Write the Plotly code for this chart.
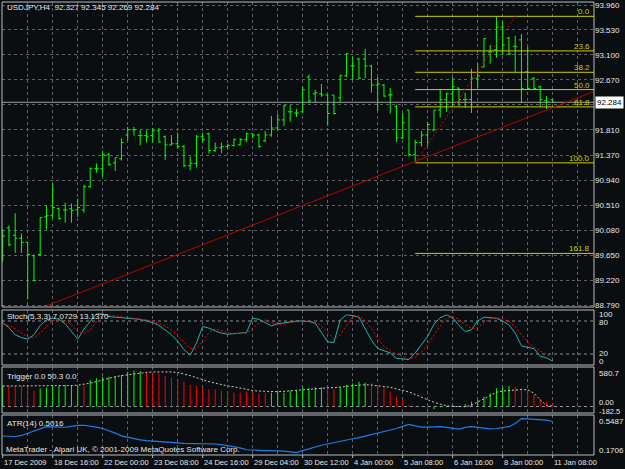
import plotly.graph_objects as go

# ---------------- data ----------------
bar_open = [89.71, 90.12, 89.99, 89.94, 89.87, 89.64, 89.66, 90.31, 90.33, 90.45,
            90.43, 90.45, 90.43, 90.43, 90.83, 91.14, 91.14, 91.38, 91.24, 91.31,
            91.72, 91.81, 91.71, 91.71, 91.71, 91.79, 91.69, 91.55, 91.57, 91.52,
            91.19, 91.23, 91.69, 91.74, 91.45, 91.50, 91.52, 91.54, 91.55, 91.64,
            91.74, 91.72, 91.62, 91.72, 91.84, 91.98, 92.12, 92.10, 92.12, 92.72,
            92.43, 92.43, 92.41, 92.41, 92.36, 92.74, 92.91, 93.03, 93.03, 92.91,
            92.58, 92.58, 92.41, 92.21, 91.67, 92.15, 91.38, 91.59, 91.72, 91.81,
            92.15, 92.33, 92.43, 92.53, 92.33, 92.33, 92.70, 92.89, 93.15, 93.19,
            93.58, 93.39, 93.25, 93.36, 92.81, 92.70, 92.55, 92.31, 92.327]
bar_high = [90.09, 90.16, 90.37, 90.02, 89.88, 89.66, 90.30, 90.50, 90.88, 90.47,
            90.55, 90.54, 90.62, 90.86, 91.16, 91.23, 91.45, 91.41, 91.33, 91.66,
            91.86, 91.86, 91.81, 91.80, 91.84, 91.84, 91.71, 91.72, 91.76, 91.55,
            91.35, 91.72, 91.76, 91.76, 91.59, 91.59, 91.57, 91.66, 91.67, 91.76,
            91.74, 91.74, 91.79, 92.05, 92.09, 92.24, 92.24, 92.17, 92.55, 92.76,
            92.50, 92.60, 92.43, 92.41, 92.76, 93.13, 93.07, 93.05, 93.20, 92.93,
            92.72, 92.60, 92.53, 92.24, 92.10, 92.15, 91.64, 91.79, 91.95, 92.15,
            92.50, 92.45, 92.72, 92.53, 92.45, 92.86, 92.95, 93.39, 93.27, 93.76,
            93.68, 93.41, 93.43, 93.46, 93.24, 92.72, 92.57, 92.39, 92.345]
bar_low = [89.54, 89.80, 89.69, 89.69, 88.89, 89.20, 89.63, 90.09, 90.28, 90.26,
           90.21, 90.21, 90.31, 90.38, 90.81, 91.07, 91.00, 91.19, 91.10, 91.28,
           91.62, 91.71, 91.54, 91.59, 91.59, 91.59, 91.29, 91.54, 91.48, 91.17,
           91.11, 91.16, 91.59, 91.40, 91.43, 91.41, 91.47, 91.52, 91.54, 91.60,
           91.66, 91.50, 91.60, 91.69, 91.79, 91.88, 91.95, 92.03, 92.10, 92.27,
           92.29, 92.38, 91.88, 92.07, 92.27, 92.72, 92.67, 92.69, 92.70, 92.45,
           92.14, 92.38, 92.09, 91.60, 91.65, 91.35, 91.24, 91.52, 91.53, 91.78,
           92.02, 92.12, 92.21, 92.22, 92.19, 92.10, 92.53, 92.89, 92.95, 93.05,
           93.10, 93.10, 92.81, 92.27, 92.50, 92.50, 92.21, 92.17, 92.269]
bar_close = [89.98, 89.83, 89.94, 89.87, 89.66, 89.21, 90.30, 90.33, 90.47, 90.28,
             90.43, 90.42, 90.47, 90.83, 91.14, 91.14, 91.38, 91.21, 91.33, 91.59,
             91.81, 91.81, 91.71, 91.69, 91.79, 91.60, 91.55, 91.57, 91.52, 91.19,
             91.23, 91.69, 91.64, 91.45, 91.50, 91.52, 91.54, 91.64, 91.64, 91.74,
             91.72, 91.52, 91.72, 91.84, 91.98, 92.22, 92.12, 92.10, 92.50, 92.31,
             92.45, 92.41, 92.09, 92.09, 92.74, 93.12, 92.91, 92.70, 92.91, 92.58,
             92.60, 92.39, 92.41, 91.67, 91.93, 91.38, 91.59, 91.72, 91.90, 92.15,
             92.33, 92.43, 92.55, 92.33, 92.33, 92.70, 92.74, 93.38, 93.15, 93.58,
             93.27, 93.12, 93.24, 92.52, 92.52, 92.52, 92.33, 92.29, 92.284]

stoch_main = [77, 68, 55, 50, 47, 55, 72, 82, 85, 83,
              75, 60, 47, 65, 80, 93, 93, 88, 87, 86,
              85, 84, 83, 80, 77, 72, 64, 55, 43, 28,
              18, 40, 70, 67, 62, 58, 56, 57, 58, 59,
              85, 83, 77, 71, 75, 77, 79, 80, 80, 79,
              76, 58, 42, 41, 82, 91, 90, 87, 66, 45,
              30, 26, 22, 12, 11, 10, 22, 38, 52, 74,
              86, 91, 86, 72, 61, 64, 80, 87, 86, 85,
              80, 73, 58, 35, 32, 30, 16, 13, 7.0729]
stoch_signal = [75, 72, 66, 58, 51, 50, 58, 70, 80, 83,
                81, 73, 61, 57, 64, 79, 89, 91, 89, 87,
                86, 85, 84, 82, 80, 76, 71, 64, 54, 42,
                30, 29, 43, 59, 66, 62, 59, 57, 57, 58,
                67, 76, 82, 77, 74, 74, 77, 79, 80, 80,
                78, 71, 59, 47, 55, 71, 88, 89, 81, 66,
                47, 34, 26, 20, 15, 11, 14, 23, 37, 55,
                71, 84, 88, 83, 73, 66, 68, 77, 84, 86,
                84, 79, 70, 55, 42, 32, 26, 20, 13.137]

trigger_hist = [338, 338, 338, 338, 338, 261, 300, 317, 338, 338,
                355, 355, 338, 338, 437, 465, 492, 492, 503, 520,
                574, 591, 586, 574, 558, 547, 503, 476, 448, 409,
                355, 338, 317, 284, 284, 261, 228, 228, 228, 244,
                228, 218, 218, 228, 261, 228, 261, 261, 317, 300,
                317, 317, 300, 284, 317, 355, 383, 409, 393, 383,
                355, 317, 244, 162, 119, 25, -14, -10, -58, -47,
                -14, -5, 25, 8, 41, 79, 107, 162, 218, 300,
                327, 338, 317, 300, 270, 190, 119, 79, 50.3]
trigger_color = ("G" "RRRRR" "GGGGGGG" "R" "GGGGGGGGG" "RRRRRRRRRRRRRRRRRRRR"
                 "GGGGGGGGG" "RR" "GGGGG" "RRRRRRRRRR" "GGGGGGGGGGGGG" "RRRRRRR")
trigger_signal = [338, 338, 338, 338, 338, 338, 338, 338, 338, 338,
                  340, 345, 352, 365, 385, 410, 440, 465, 490, 510,
                  525, 536, 550, 562, 570, 574, 574, 570, 560, 540,
                  510, 475, 440, 410, 385, 360, 340, 325, 305, 280,
                  262, 255, 250, 245, 244, 250, 258, 265, 275, 290,
                  300, 305, 308, 310, 317, 330, 345, 355, 358, 355,
                  345, 330, 317, 290, 265, 240, 200, 150, 110, 70,
                  35, 10, 2, 0, -3, 20, 75, 130, 190, 235,
                  255, 265, 272, 280, 275, 220, 110, 15, 8]

atr_values = [0.349, 0.347, 0.344, 0.355, 0.380, 0.405, 0.428, 0.447, 0.446, 0.444,
              0.441, 0.450, 0.460, 0.462, 0.455, 0.443, 0.428, 0.405, 0.380, 0.350,
              0.335, 0.320, 0.308, 0.300, 0.294, 0.289, 0.284, 0.280, 0.276, 0.272,
              0.272, 0.272, 0.270, 0.267, 0.265, 0.258, 0.248, 0.240, 0.225, 0.205,
              0.200, 0.197, 0.195, 0.195, 0.195, 0.190, 0.182, 0.174, 0.195, 0.215,
              0.235, 0.252, 0.265, 0.280, 0.295, 0.307, 0.320, 0.332, 0.348, 0.362,
              0.376, 0.392, 0.410, 0.428, 0.450, 0.472, 0.455, 0.442, 0.443, 0.445,
              0.447, 0.440, 0.432, 0.422, 0.440, 0.447, 0.440, 0.432, 0.424, 0.428,
              0.437, 0.447, 0.480, 0.532, 0.530, 0.527, 0.525, 0.515, 0.5016]

time_labels = ["17 Dec 2009", "18 Dec 16:00", "22 Dec 00:00", "23 Dec 08:00",
               "24 Dec 16:00", "29 Dec 04:00", "30 Dec 12:00", "4 Jan 00:00",
               "5 Jan 08:00", "6 Jan 16:00", "8 Jan 00:00", "11 Jan 08:00"]
time_label_bars = [0, 8, 16, 24, 32, 40, 48, 56, 64, 72, 80, 88]
price_ticks = [93.960, 93.530, 93.100, 92.670, 92.240, 91.810, 91.370,
               90.940, 90.510, 90.080, 89.650, 89.220, 88.790]
fib_levels = [0.0, 23.6, 38.2, 50.0, 61.8, 100.0, 161.8]
fib_high = 93.765
fib_low = 91.24
fib_anchor_bars = [66, 82]
trend_bars = [7.1, 94.6]
trend_prices = [88.78, 92.47]
last_price = 92.284

# ---------------- style / layout ----------------
W, H = 625, 469
ML, MR, MT, MB = 2, 31, 2, 14
PW, PH = W - ML - MR, H - MT - MB
BG = "#0b0e11"
GRID = "#5b6166"
FG = "#e6e6e6"
FONT = "Liberation Sans, Arial, sans-serif"
LIME = "#00ff00"
FIB = "#cccc00"


def py(ypx):
    return 1 - (ypx - MT) / PH


def px(xpx):
    return (xpx - ML) / PW


n = len(bar_close)
xs = list(range(n))
x_range = [-0.112, 94.608]


def bar_to_paper(b):
    return (b - x_range[0]) / (x_range[1] - x_range[0])


dom_price = [py(307), 1]
dom_stoch = [py(365), py(310)]
dom_trig = [py(413), py(367)]
dom_atr = [0, py(415)]

fig = go.Figure()

# price bars
fig.add_trace(go.Ohlc(x=xs, open=bar_open, high=bar_high, low=bar_low, close=bar_close,
                      increasing=dict(line=dict(color=LIME, width=1)),
                      decreasing=dict(line=dict(color=LIME, width=1)),
                      tickwidth=0.35, hoverinfo="skip", xaxis="x", yaxis="y"))

# current price line
fig.add_trace(go.Scatter(x=x_range, y=[last_price, last_price], mode="lines",
                         line=dict(color="#9a9ea2", width=1), hoverinfo="skip",
                         xaxis="x", yaxis="y"))

# fibonacci levels
fib_prices = [fib_high - (fib_high - fib_low) * lv / 100 for lv in fib_levels]
for lv, fp in zip(fib_levels, fib_prices):
    fig.add_trace(go.Scatter(x=[fib_anchor_bars[0], x_range[1]], y=[fp, fp], mode="lines",
                             line=dict(color=FIB, width=1), hoverinfo="skip",
                             xaxis="x", yaxis="y"))
# fibonacci diagonal
fig.add_trace(go.Scatter(x=fib_anchor_bars, y=[fib_low, fib_high], mode="lines",
                         line=dict(color="#d00000", width=1, dash="2px,2px"),
                         hoverinfo="skip", xaxis="x", yaxis="y"))
# trendline
fig.add_trace(go.Scatter(x=trend_bars, y=trend_prices, mode="lines",
                         line=dict(color="#b80000", width=1), hoverinfo="skip",
                         xaxis="x", yaxis="y"))

# stochastic
fig.add_trace(go.Scatter(x=xs, y=stoch_main, mode="lines",
                         line=dict(color="#20b2aa", width=1), hoverinfo="skip",
                         xaxis="x2", yaxis="y2"))
fig.add_trace(go.Scatter(x=xs, y=stoch_signal, mode="lines",
                         line=dict(color="#ff0000", width=1, dash="2px,2px"), hoverinfo="skip",
                         xaxis="x2", yaxis="y2"))

# trigger histogram
for code, col in (("G", LIME), ("R", "#ff0000")):
    hx, hy = [], []
    for i, v in enumerate(trigger_hist):
        if trigger_color[i] == code:
            hx += [i, i, None]
            hy += [0, v, None]
    fig.add_trace(go.Scatter(x=hx, y=hy, mode="lines", line=dict(color=col, width=1),
                             hoverinfo="skip", xaxis="x3", yaxis="y3"))
fig.add_trace(go.Scatter(x=xs, y=trigger_signal, mode="lines",
                         line=dict(color="#c8c8c8", width=1, dash="2px,2px"), hoverinfo="skip",
                         xaxis="x3", yaxis="y3"))

# ATR
fig.add_trace(go.Scatter(x=xs, y=atr_values, mode="lines",
                         line=dict(color="#1e7ee8", width=1.2), hoverinfo="skip",
                         xaxis="x4", yaxis="y4"))

grid_vals = list(range(0, 96, 4))
xaxis_common = dict(range=x_range, tickvals=grid_vals, showticklabels=False,
                    showgrid=True, gridcolor=GRID, griddash="3px,3px", gridwidth=1,
                    zeroline=False, showline=False, ticks="", fixedrange=True)

shapes = []
# levels
for yv, ya in ((80, "y2"), (20, "y2"), (0, "y3")):
    shapes.append(dict(type="line", xref="paper", x0=0, x1=1, yref=ya, y0=yv, y1=yv,
                       line=dict(color="#8a9096", width=1, dash="3px,3px"), layer="below"))
# panel frames
for ya in ("y", "y2", "y3", "y4"):
    shapes.append(dict(type="rect", xref="paper", x0=0, x1=1, yref=ya + " domain", y0=0, y1=1,
                       line=dict(color="#b8bcc0", width=1), layer="above"))
# small time tick marks under the bottom frame
for b in time_label_bars:
    xp = bar_to_paper(b)
    shapes.append(dict(type="line", xref="paper", yref="paper", x0=xp, x1=xp,
                       y0=py(455), y1=py(458), line=dict(color="#b8bcc0", width=1)))

ann = []


def txt(x, y, s, size=8, color=FG, xanchor="left", yanchor="middle", **kw):
    ann.append(dict(x=x, y=y, xref="paper", yref="paper", text=s, showarrow=False,
                    xanchor=xanchor, yanchor=yanchor,
                    font=dict(family=FONT, size=size, color=color), **kw))


txt(px(5), py(8), "USDJPY,H4  92.327 92.345 92.269 92.284")
txt(px(5), py(316), "Stoch(5,3,3) 7.0729 13.1370")
txt(px(5), py(376), "Trigger 0.0 50.3 0.0")
txt(px(5), py(423), "ATR(14) 0.5016")
txt(px(4), py(449), "MetaTrader - Alpari UK, © 2001-2009 MetaQuotes Software Corp.")

# right side indicator scale labels
for s, ypx, sz in (("100", 314, 8), ("80", 322, 8), ("20", 353.5, 8), ("0", 361.5, 8),
                   ("580.7", 373, 8), ("0.00", 402.5, 7.5), ("-182.5", 411, 7.5),
                   ("0.5487", 421.5, 8), ("0.1706", 450.5, 8)):
    txt(px(597), py(ypx), s, size=sz)

# time labels (left-aligned at their tick)
for b, s in zip(time_label_bars, time_labels):
    txt(bar_to_paper(b) - 1.0 / PW, py(462), s, size=7.5)

# fib labels
for lv, fp in zip(fib_levels, fib_prices):
    ann.append(dict(x=x_range[1] - 0.3, y=fp, xref="x", yref="y", text="%.1f" % lv,
                    showarrow=False, xanchor="right", yanchor="bottom", yshift=-2,
                    font=dict(family=FONT, size=8, color=FIB)))

# current price box
ann.append(dict(x=px(595), y=last_price, xref="paper", yref="y", text="%.3f" % last_price,
                showarrow=False, xanchor="left", yanchor="middle", bgcolor="#ffffff",
                borderpad=1, font=dict(family=FONT, size=8, color="#000000")))

# the 92.240 scale label is hidden behind the price box in the reference
price_tick_text = ["" if abs(v - last_price) < 0.1 else "%.3f" % v for v in price_ticks]

fig.update_layout(
    width=W, height=H, margin=dict(l=ML, r=MR, t=MT, b=MB, pad=0),
    paper_bgcolor=BG, plot_bgcolor=BG, showlegend=False,
    font=dict(family=FONT, size=8, color=FG),
    xaxis=dict(xaxis_common, anchor="y", rangeslider=dict(visible=False)),
    xaxis2=dict(xaxis_common, anchor="y2", matches="x"),
    xaxis3=dict(xaxis_common, anchor="y3", matches="x"),
    xaxis4=dict(xaxis_common, anchor="y4", matches="x"),
    yaxis=dict(domain=dom_price, range=[88.756, 94.012], side="right",
               tickvals=price_ticks, ticktext=price_tick_text,
               tickfont=dict(family=FONT, size=8, color=FG),
               showgrid=True, gridcolor=GRID, griddash="3px,3px", zeroline=False,
               ticks="", fixedrange=True),
    yaxis2=dict(domain=dom_stoch, range=[0, 100], showticklabels=False, showgrid=False,
                zeroline=False, fixedrange=True),
    yaxis3=dict(domain=dom_trig, range=[-107.25, 651.75], showticklabels=False,
                showgrid=False, zeroline=False, fixedrange=True),
    yaxis4=dict(domain=dom_atr, range=[0.1497, 0.5697], showticklabels=False,
                showgrid=False, zeroline=False, fixedrange=True),
    shapes=shapes, annotations=ann,
)

fig.write_html("out.html", config={"displayModeBar": False})
